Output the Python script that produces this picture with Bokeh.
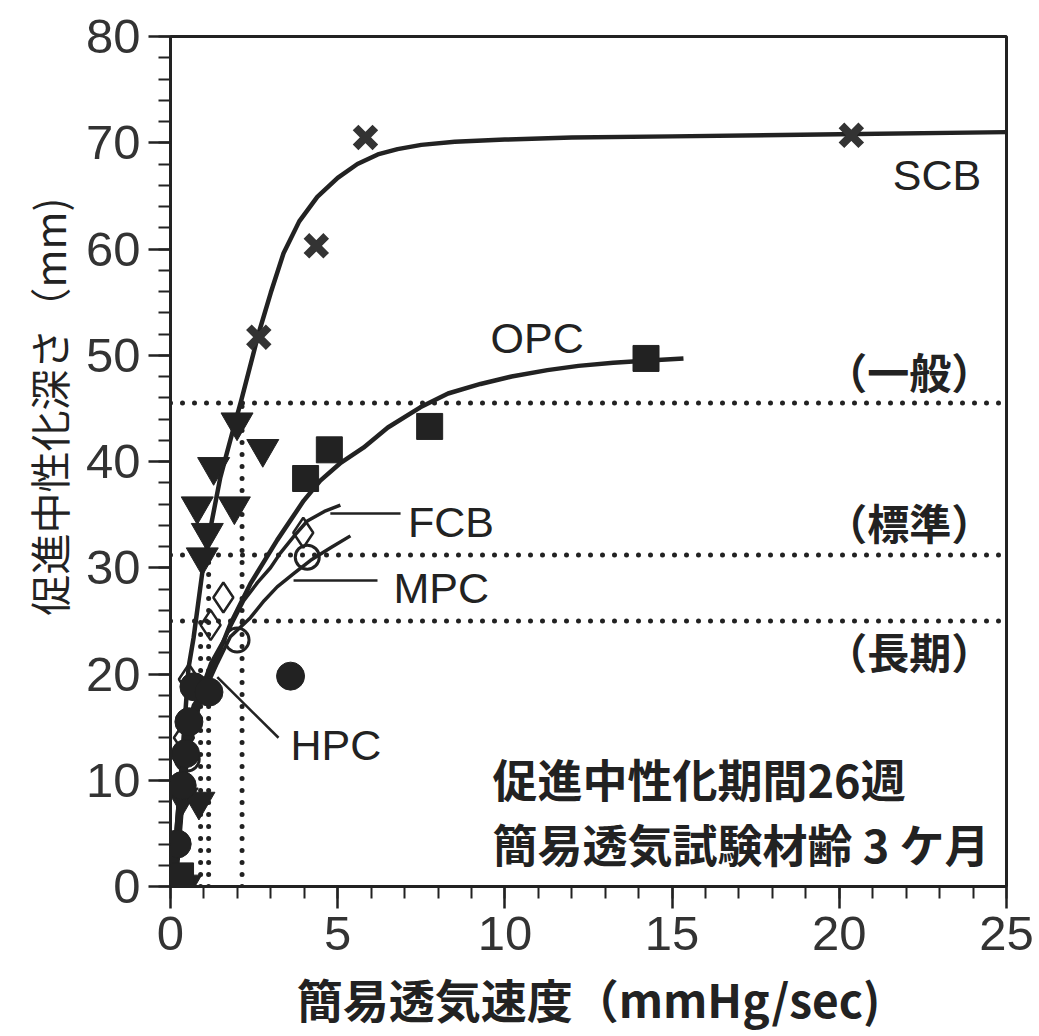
from bokeh.plotting import figure
from bokeh.models import Range1d, FixedTicker, Title
from bokeh.embed import file_html
from bokeh.resources import INLINE
from bokeh.core.properties import value

# ---------------- data ----------------
x_ticks = [0, 5, 10, 15, 20, 25]
y_ticks = [0, 10, 20, 30, 40, 50, 60, 70, 80]

# SCB (x markers)
scb_x = [2.64, 4.36, 5.83, 20.36]
scb_y = [51.7, 60.3, 70.5, 70.7]
# unlabeled inverted triangles
tri_x = [1.99, 2.76, 1.29, 0.80, 1.91, 1.10, 0.95, 0.35, 0.85, 0.15, 0.45]
tri_y = [43.7, 41.2, 39.5, 35.8, 35.8, 33.3, 31.0, 8.4, 8.0, 0.6, 0.2]
# OPC (filled squares)
opc_x = [14.22, 7.75, 4.75, 4.04, 0.30]
opc_y = [49.7, 43.3, 41.1, 38.4, 1.0]
# FCB (open diamonds)
fcb_x = [3.97, 1.58, 1.20, 0.55, 0.40]
fcb_y = [33.3, 27.2, 24.6, 19.5, 14.0]
# MPC (open circles)
mpc_x = [4.09, 1.99, 0.50]
mpc_y = [31.0, 23.2, 12.0]
# HPC (filled circles)
hpc_x = [3.59, 0.70, 1.15, 0.55, 0.45, 0.35, 0.20]
hpc_y = [19.8, 18.8, 18.3, 15.5, 12.5, 9.5, 4.0]

# fitted curves, points
scb_cx = [0.05, 0.30, 0.54, 0.69, 0.97, 1.20, 1.49, 1.84, 2.12, 2.63, 3.00, 3.38, 3.85, 4.39, 5.00, 5.59, 6.20, 6.79, 7.50, 8.50, 10.0, 12.0, 15.0, 20.0, 25.0]
scb_cy = [0.0, 10.0, 20.6, 23.4, 30.0, 33.8, 38.5, 42.6, 45.8, 52.0, 55.9, 59.6, 62.6, 64.9, 66.7, 68.0, 68.9, 69.4, 69.8, 70.1, 70.3, 70.5, 70.6, 70.8, 71.0]
opc_cx = [0.10, 0.40, 0.75, 1.10, 1.40, 1.79, 2.39, 3.19, 3.98, 4.48, 5.10, 5.77, 6.50, 7.47, 8.30, 9.27, 10.20, 11.27, 12.20, 13.24, 14.30, 15.34]
opc_cy = [0.0, 10.0, 16.5, 19.7, 21.6, 24.7, 28.5, 32.6, 36.3, 38.2, 39.9, 41.3, 43.2, 45.1, 46.4, 47.3, 48.0, 48.6, 49.0, 49.3, 49.5, 49.7]
fcb_cx = [0.10, 0.45, 0.80, 1.20, 1.59, 2.19, 2.60, 2.99, 3.29, 3.70, 4.09, 4.60, 5.08]
fcb_cy = [0.0, 12.0, 17.5, 21.0, 23.2, 26.9, 28.6, 30.0, 31.4, 33.0, 34.4, 35.3, 35.9]
mpc_cx = [0.10, 0.50, 0.90, 1.40, 1.79, 2.39, 2.80, 3.19, 3.70, 4.19, 4.80, 5.38]
mpc_cy = [0.0, 12.0, 17.5, 21.0, 23.5, 25.3, 26.9, 28.2, 29.5, 30.7, 31.9, 33.0]
hpc_cx = [0.10, 0.30, 0.50, 0.75, 1.10]
hpc_cy = [0.0, 8.0, 14.0, 17.0, 18.5]

# threshold levels (dotted)
level_y = [45.5, 31.2, 25.0]
level_x = [2.14, 1.14, 0.90]
level_names = ["（一般）", "（標準）", "（長期）"]
level_label_y = [48.6, 34.4, 22.2]

# ---------------- figure ----------------
p = figure(width=1039, height=1036, x_range=Range1d(0, 25), y_range=Range1d(0, 80),
           output_backend="svg", toolbar_location=None,
           min_border_left=170, min_border_right=33, min_border_top=36, min_border_bottom=150)
p.background_fill_color = "white"
p.border_fill_color = "white"
p.grid.visible = False
p.outline_line_color = "#222222"
p.outline_line_width = 3

p.xaxis.ticker = FixedTicker(ticks=x_ticks, minor_ticks=list(range(0, 26)))
p.yaxis.ticker = FixedTicker(ticks=y_ticks, minor_ticks=list(range(0, 81, 2)))
for ax in (p.xaxis[0], p.yaxis[0]):
    ax.axis_line_width = 3
    ax.axis_line_color = "#222222"
    ax.major_tick_in = 0
    ax.major_tick_out = 22
    ax.minor_tick_in = 0
    ax.minor_tick_out = 12
    ax.major_tick_line_width = 2.5
    ax.minor_tick_line_width = 2
    ax.major_tick_line_color = "#222222"
    ax.minor_tick_line_color = "#222222"
    ax.major_label_text_font = "Liberation Sans"
    ax.major_label_text_font_size = "49px"
    ax.major_label_text_color = "#333333"
    ax.major_label_standoff = 8
    ax.axis_label_text_font = "Noto Sans CJK JP"
    ax.axis_label_text_color = "#222222"
    ax.axis_label_text_font_style = "bold"

p.xaxis.axis_label = "簡易透気速度（mmHg/sec)"
p.xaxis.axis_label_text_font_size = "46px"
p.xaxis.axis_label_standoff = 12

# y-axis title as a side title, positioned along the axis like in the reference
ytitle = Title(text="促進中性化深さ（mm)", align="left", offset=271,
               text_font="Noto Sans CJK JP", text_font_size="41px",
               text_color="#222222", text_font_style="normal")
p.add_layout(ytitle, "left")

# dotted threshold lines
dot = dict(line_color="#222222", line_width=5, line_dash="0 12", line_cap="round")
for ly, lx in zip(level_y, level_x):
    p.line([0, 25], [ly, ly], **dot)
    p.line([lx, lx], [0, ly], **dot)

# open markers first (lines show through)
p.scatter(fcb_x, fcb_y, marker="diamond", size=30, fill_color=None, line_color="#222222", line_width=2.5)
p.scatter(mpc_x, mpc_y, marker="circle", size=24, fill_color=None, line_color="#222222", line_width=3)

# curves
cur = dict(line_color="#222222", line_width=4.5, line_join="round")
p.line(scb_cx, scb_cy, **cur)
p.line(opc_cx, opc_cy, **cur)
p.line(fcb_cx, fcb_cy, line_color="#222222", line_width=3.5, line_join="round")
p.line(mpc_cx, mpc_cy, line_color="#222222", line_width=3.5, line_join="round")
p.line(hpc_cx, hpc_cy, line_color="#222222", line_width=8)

# leader lines
p.line([4.78, 6.88], [35.1, 35.1], line_color="#222222", line_width=2.5)
p.line([3.68, 6.19], [28.8, 28.8], line_color="#222222", line_width=2.5)
p.line([1.40, 3.23], [19.7, 14.0], line_color="#222222", line_width=2.5)

# filled markers
p.scatter(tri_x, tri_y, marker="inverted_triangle", size=32, fill_color="#222222", line_color="#222222")
p.scatter(opc_x, opc_y, marker="square", size=26, fill_color="#222222", line_color="#222222")
p.scatter(hpc_x, hpc_y, marker="circle", size=28, fill_color="#222222", line_color="#222222")
p.scatter(scb_x, scb_y, marker="x", size=28, line_color="#333333", line_width=8)

# series labels
lab = dict(text_font=value("Liberation Sans"), text_font_size="43px", text_color="#222222",
           text_align="left", text_baseline="middle")
p.text(x=[21.6], y=[67.0], text=["SCB"], **lab)
p.text(x=[9.57], y=[51.6], text=["OPC"], **lab)
p.text(x=[7.1], y=[34.3], text=["FCB"], **lab)
p.text(x=[6.67], y=[28.1], text=["MPC"], **lab)
p.text(x=[3.59], y=[13.3], text=["HPC"], **lab)

p.text(x=[22.09] * 3, y=level_label_y, text=level_names,
       text_font=value("Noto Sans CJK JP"), text_font_size="42px", text_color="#222222",
       text_align="center", text_baseline="middle", text_font_style="bold")

note = dict(text_font=value("Noto Sans CJK JP"), text_font_size="45px", text_color="#222222",
            text_align="left", text_baseline="middle", text_font_style="bold")
p.text(x=[9.63], y=[10.2], text=["促進中性化期間26週"], **note)
p.text(x=[9.63], y=[4.05], text=["簡易透気試験材齢 3 ケ月"], **note)

open("out.html", "w").write(file_html(p, INLINE))
